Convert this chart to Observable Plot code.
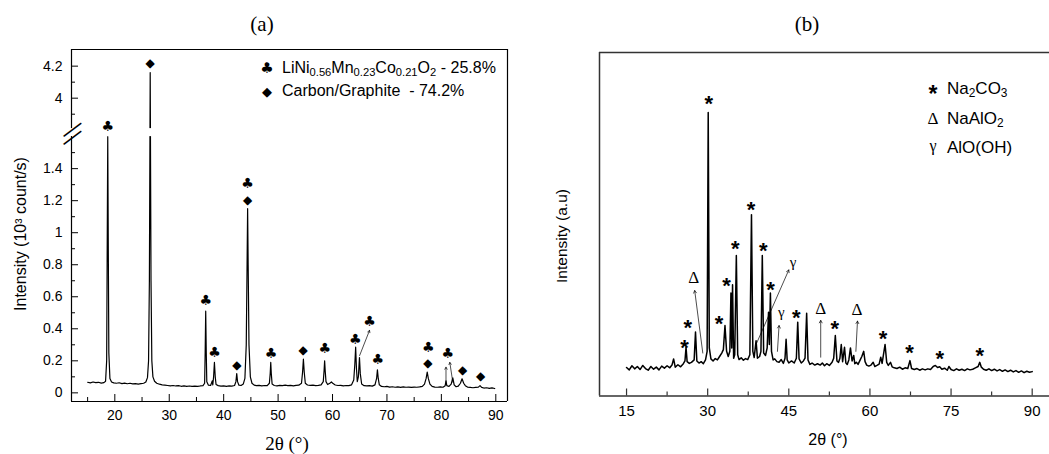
<!DOCTYPE html>
<html><head><meta charset="utf-8">
<script src="https://cdn.jsdelivr.net/npm/d3@7"></script>
<script src="https://cdn.jsdelivr.net/npm/@observablehq/plot@0.6"></script>
<style>
body{margin:0;background:#fff;}
#wrap{position:relative;width:1049px;height:454px;overflow:hidden;font-family:"Liberation Sans",Arial,sans-serif;color:#000;background:#fff}
.abs{position:absolute;white-space:pre;line-height:1}
.c{transform:translate(-50%,-50%)}
.l{transform:translate(0,-50%)}
.r{transform:translate(-50%,-50%) rotate(-90deg)}
sub{font-size:0.7em;vertical-align:-0.3em;line-height:0}
.serif{font-family:"Liberation Serif","Times New Roman",serif}
.sym{font-family:"DejaVu Sans",sans-serif}
</style></head><body>
<div id="wrap">
  <div id="pa" class="abs" style="left:0;top:0"></div>
  <div id="pb" class="abs" style="left:530px;top:0"></div>

  <div class="abs c serif" style="left:262px;top:24px;font-size:21px">(a)</div>
  <div class="abs c serif" style="left:807px;top:24px;font-size:21px">(b)</div>

  <div class="abs c serif" style="left:287px;top:443px;font-size:19px">2θ (°)</div>
  <div class="abs r" style="left:21px;top:234px;font-size:16px">Intensity (10³ count/s)</div>
  <div class="abs c" style="left:828px;top:440px;font-size:16px">2θ (°)</div>
  <div class="abs r" style="left:562px;top:236px;font-size:15.5px">Intensity (a.u)</div>

  <div class="abs c sym" style="left:267px;top:68px;font-size:15px">♣</div>
  <div class="abs l" style="left:282px;top:68px;font-size:16px">LiNi<sub>0.56</sub>Mn<sub>0.23</sub>Co<sub>0.21</sub>O<sub>2</sub> - 25.8%</div>
  <div class="abs c sym" style="left:267px;top:91px;font-size:13px">◆</div>
  <div class="abs l" style="left:282px;top:91px;font-size:16px">Carbon/Graphite  - 74.2%</div>

  <div class="abs c" style="left:933px;top:94px;font-size:23px;font-weight:bold">*</div>
  <div class="abs l" style="left:947px;top:88px;font-size:17px">Na<sub>2</sub>CO<sub>3</sub></div>
  <div class="abs c serif" style="left:933px;top:118px;font-size:17px">Δ</div>
  <div class="abs l" style="left:947px;top:118px;font-size:17px">NaAlO<sub>2</sub></div>
  <div class="abs c serif" style="left:933px;top:146px;font-size:16px">γ</div>
  <div class="abs l" style="left:947px;top:147px;font-size:17px">AlO(OH)</div>
</div>
<script>
// ---------------- Panel (a) data ----------------
const twoThetaA = [15.0,15.5,16.0,16.5,17.0,17.5,18.0,18.3,18.5,18.6,18.7,18.8,18.9,19.1,19.4,19.8,20.3,20.8,21.3,21.8,22.3,22.8,23.3,23.8,24.3,24.8,25.3,25.7,26.0,26.2,26.35,26.5,26.65,26.8,27.0,27.3,27.7,28.2,28.7,29.2,29.7,30.2,30.7,31.2,31.7,32.2,32.7,33.2,33.7,34.2,34.7,35.2,35.7,36.2,36.5,36.6,36.7,36.8,36.9,37.2,37.6,37.9,38.0,38.15,38.3,38.45,38.6,39.0,39.5,40.0,40.5,41.0,41.5,42.0,42.25,42.4,42.55,42.8,43.2,43.6,43.9,44.15,44.3,44.4,44.5,44.65,44.9,45.2,45.6,46.0,46.5,47.0,47.5,48.0,48.4,48.55,48.65,48.75,48.9,49.3,49.8,50.3,50.8,51.3,51.8,52.3,52.8,53.3,53.8,54.3,54.5,54.65,54.8,55.0,55.4,55.9,56.4,56.9,57.4,57.9,58.3,58.45,58.55,58.65,58.8,59.1,59.5,59.8,60.1,60.5,61.0,61.5,62.0,62.5,63.0,63.5,63.9,64.1,64.25,64.4,64.55,64.75,64.95,65.1,65.35,65.8,66.3,66.8,67.3,67.8,68.1,68.25,68.4,68.6,69.0,69.5,70.0,70.5,71.0,71.5,72.0,72.5,73.0,73.5,74.0,74.5,75.0,75.5,76.0,76.5,76.9,77.2,77.4,77.6,77.9,78.3,78.8,79.3,79.8,80.3,80.7,80.85,81.0,81.4,81.8,82.1,82.35,82.7,83.1,83.5,83.8,84.1,84.4,84.8,85.3,85.8,86.3,86.8,87.1,87.4,87.8,88.3,88.8,89.3,89.8];
const intensityA = [0.066,0.062,0.068,0.064,0.066,0.061,0.064,0.072,0.20,0.9,1.6,0.9,0.25,0.09,0.068,0.062,0.060,0.063,0.058,0.061,0.057,0.060,0.056,0.058,0.055,0.058,0.060,0.068,0.095,0.20,0.7,4.16,0.7,0.20,0.10,0.072,0.060,0.054,0.050,0.048,0.046,0.044,0.046,0.043,0.045,0.041,0.044,0.040,0.043,0.040,0.042,0.040,0.043,0.045,0.06,0.25,0.51,0.25,0.07,0.048,0.046,0.075,0.05,0.10,0.19,0.10,0.052,0.045,0.042,0.044,0.041,0.043,0.042,0.046,0.07,0.12,0.07,0.048,0.046,0.055,0.09,0.30,0.80,1.15,0.80,0.30,0.10,0.06,0.048,0.045,0.047,0.044,0.046,0.045,0.06,0.12,0.19,0.12,0.055,0.046,0.044,0.047,0.045,0.048,0.045,0.047,0.044,0.047,0.048,0.06,0.13,0.21,0.13,0.06,0.049,0.047,0.048,0.045,0.047,0.05,0.07,0.14,0.20,0.14,0.07,0.052,0.06,0.068,0.058,0.049,0.046,0.047,0.044,0.046,0.045,0.05,0.08,0.18,0.285,0.15,0.07,0.10,0.22,0.12,0.055,0.045,0.043,0.045,0.042,0.05,0.09,0.144,0.09,0.05,0.040,0.038,0.040,0.036,0.038,0.035,0.037,0.034,0.037,0.035,0.036,0.034,0.036,0.035,0.037,0.040,0.055,0.09,0.13,0.09,0.055,0.040,0.036,0.035,0.037,0.035,0.045,0.075,0.045,0.040,0.055,0.094,0.05,0.038,0.042,0.06,0.088,0.06,0.045,0.036,0.034,0.032,0.034,0.036,0.045,0.034,0.030,0.032,0.028,0.031,0.027];

const xMajorA = [20, 30, 40, 50, 60, 70, 80, 90];
const xMinorA = [15, 25, 35, 45, 55, 65, 75, 85];
const yMajorA = [0, 0.2, 0.4, 0.6, 0.8, 1, 1.2, 1.4, 4, 4.2];
const yMinorA = [0.1, 0.3, 0.5, 0.7, 0.9, 1.1, 1.3, 1.5, 3.9, 4.1];
const yBreakA = [1.6, 3.81];   // axis break: values between are cut out
const xDomainA = [12.04, 92.15];
const yDomainA = [-0.054, 4.304];

const cloverX = [18.7, 36.7, 38.3, 44.4, 48.7, 58.6, 64.2, 66.8, 68.3, 77.6, 81.2];
const cloverY = [3.823, 0.577, 0.25, 1.305, 0.244, 0.275, 0.331, 0.446, 0.206, 0.285, 0.244];
const diamondX = [26.5, 42.4, 44.4, 54.6, 77.5, 83.9, 87.2];
const diamondY = [4.22, 0.175, 1.205, 0.264, 0.185, 0.144, 0.102];
const arrowAx1 = [64.98, 80.85, 82.1];
const arrowAy1 = [0.233, 0.058, 0.066];
const arrowAx2 = [66.8, 80.85, 81.55];
const arrowAy2 = [0.39, 0.16, 0.19];

// ---------------- Panel (b) data ----------------
const twoThetaB = [15.0,15.5,16.0,16.5,17.0,17.5,18.0,18.5,19.0,19.5,20.0,20.5,21.0,21.5,22.0,22.5,23.0,23.4,23.7,24.0,24.5,25.0,25.5,25.8,26.0,26.2,26.6,27.0,27.5,27.75,28.0,28.4,28.8,29.2,29.6,29.9,30.1,30.3,30.6,31.0,31.4,31.8,32.2,32.6,32.9,33.2,33.5,33.8,34.1,34.3,34.45,34.6,34.8,35.0,35.3,35.55,35.8,36.2,36.6,37.0,37.4,37.8,38.1,38.35,38.6,38.95,39.2,39.6,39.85,40.1,40.35,40.7,41.0,41.25,41.4,41.6,41.8,42.1,42.4,42.8,43.2,43.6,44.0,44.3,44.5,44.7,45.0,45.5,46.0,46.4,46.65,46.9,47.3,47.7,48.0,48.3,48.55,48.9,49.3,49.8,50.3,50.8,51.2,51.6,52.0,52.5,53.0,53.3,53.6,53.9,54.2,54.45,54.7,54.95,55.3,55.55,55.8,56.1,56.4,56.7,57.0,57.2,57.5,57.8,58.2,58.5,58.85,59.1,59.4,59.8,60.2,60.6,60.9,61.3,61.7,62.0,62.25,62.8,63.1,63.4,63.8,64.1,64.5,65.0,65.5,66.0,66.5,67.0,67.4,67.7,68.2,68.7,69.2,69.7,70.2,70.7,71.2,71.7,72.1,72.5,72.9,73.3,73.8,74.3,74.6,75.0,75.5,76.0,76.5,77.0,77.5,78.0,78.5,79.0,79.5,80.0,80.3,80.6,81.0,81.5,82.0,82.5,83.0,83.5,84.0,84.5,85.0,85.5,86.0,86.5,87.0,87.5,88.0,88.5,89.0,89.5,90.0];
const intensityB = [8.3,7.6,8.8,7.9,8.6,7.7,8.9,8.0,7.5,8.6,7.8,8.4,7.6,8.7,8.1,8.8,8.2,9.0,10.8,8.4,9.1,8.5,9.4,10.2,14.2,10.0,9.5,9.8,10.5,18.6,10.2,9.6,10.0,9.4,10.5,13,82.5,14,10.8,10.2,10.9,10.5,11.5,12.5,13.5,20.5,13.0,11.5,13.0,30.0,14,32.4,11.0,12.0,40.9,12,10.6,11.1,10.4,10.9,10.6,12.0,52.8,13,11.2,16.1,11.0,11.5,13,40.9,12.5,11.8,14,24.4,15,30,13,10.5,10.8,10.0,9.8,10.6,9.5,11,16.5,10.5,9.6,10.2,9.6,11,21.5,10.8,9.6,10.2,11.0,24.1,10.5,9.2,9.6,9.0,9.4,9.0,9.6,8.8,9.4,8.9,9.8,11,17.6,10.2,9.8,11,15.0,10,14.2,9.6,9.2,10.5,14.0,10.2,11.8,9.4,9.8,9.2,10.5,11.5,13.0,10,9.0,8.7,9.0,9.8,8.6,8.9,9.3,11.3,9.5,15.0,9.8,8.9,9.8,8.5,8.2,8.0,8.4,7.8,8.2,8.0,10.3,8.0,7.7,8.0,7.5,7.9,7.6,7.9,7.7,8.6,8.9,8.3,8.5,7.8,8.1,7.5,8.6,7.7,7.4,7.9,7.5,7.8,7.4,7.9,7.6,7.8,8.2,8.6,9.8,8.4,7.8,7.5,7.9,7.4,7.8,7.3,7.7,7.2,7.6,7.1,7.5,7.0,7.4,6.9,7.3,6.8,7.2,6.9,7.1];

const xMajorB = [15, 30, 45, 60, 75, 90];
const xMinorB = [22.5, 37.5, 52.5, 67.5, 82.5];
const xDomainB = [10.0, 93.2];
const yDomainB = [0, 100];

const starX = [25.7, 26.3, 30.2, 32.1, 33.5, 35.1, 38.0, 40.3, 41.6, 46.4, 53.5, 62.4, 67.3, 72.9, 80.3];
const starY = [15.6, 21.5, 86.6, 22.7, 33.6, 44.4, 55.9, 43.8, 32.4, 24.4, 21.0, 18.1, 14.2, 12.3, 13.2];
const deltaX = [27.4, 50.9, 57.6];
const deltaY = [34.6, 25.4, 25.1];
const gammaX = [45.8, 43.6];
const gammaY = [38.9, 24.4];
const arrowBx1 = [29.1, 39.0, 42.9, 50.9, 57.4];
const arrowBy1 = [12.5, 15.2, 13.0, 11.3, 13.0];
const arrowBx2 = [27.6, 45.0, 43.2, 50.9, 57.7];
const arrowBy2 = [30.7, 36.7, 20.5, 22.0, 21.8];

// ---------------- build ----------------
const gapA = 0.05; // visual gap of the broken axis, in lower-segment units
const brk = v => v <= yBreakA[0] ? v : (v < yBreakA[1] ? yBreakA[0] + gapA * (v - yBreakA[0]) / (yBreakA[1] - yBreakA[0]) : v - yBreakA[1] + yBreakA[0] + gapA);
const unbrk = t => t <= yBreakA[0] ? t : t + yBreakA[1] - yBreakA[0] - gapA;

const pts = (xs, ys, f = v => v) => xs.map((x, i) => ({x, y: f(ys[i])}));
const arrows = (x1, y1, x2, y2, f = v => v) => x1.map((v, i) => ({x1: v, y1: f(y1[i]), x2: x2[i], y2: f(y2[i])}));

const mA = {l: 71, r: 13, t: 49, b: 53};
const WA = 520, HA = 454;
const fwA = WA - mA.l - mA.r, fhA = HA - mA.t - mA.b;
const yTopA = brk(yDomainA[1]);

const plotA = Plot.plot({
  width: WA, height: HA,
  marginLeft: mA.l, marginRight: mA.r, marginTop: mA.t, marginBottom: mA.b,
  style: {fontFamily: "'Liberation Sans', Arial, sans-serif", fontSize: "14px", color: "#000", background: "transparent", overflow: "visible"},
  x: {domain: xDomainA, label: null},
  y: {domain: [yDomainA[0], yTopA], label: null},
  marks: [
    Plot.line(pts(twoThetaA, intensityA, brk), {x: "x", y: "y", stroke: "#000", strokeWidth: 1.2}),
    Plot.rect([0], {y1: () => brk(yBreakA[0]), y2: () => brk(yBreakA[1]), fill: "white"}),
    // frame
    Plot.ruleY([yTopA], {stroke: "#000", strokeWidth: 1.2}),
    Plot.ruleY([yDomainA[0]], {stroke: "#000", strokeWidth: 1.2}),
    Plot.ruleX([xDomainA[1]], {stroke: "#000", strokeWidth: 1.2}),
    Plot.ruleX([xDomainA[0]], {y1: () => yDomainA[0], y2: () => brk(yBreakA[0]), stroke: "#000", strokeWidth: 1.2}),
    Plot.ruleX([xDomainA[0]], {y1: () => brk(yBreakA[1]), y2: () => yTopA, stroke: "#000", strokeWidth: 1.2}),
    // axis break slashes
    Plot.text(yBreakA, {x: () => xDomainA[0], y: d => brk(d), text: () => "—", rotate: -37, fontSize: 22, lineAnchor: "middle", fill: "#000"}),
    // inward ticks
    Plot.ruleX(xMajorA, {insetTop: fhA - 7, stroke: "#000"}),
    Plot.ruleX(xMinorA, {insetTop: fhA - 4, stroke: "#000"}),
    Plot.ruleY(yMajorA.map(brk), {insetRight: fwA - 7, stroke: "#000"}),
    Plot.ruleY(yMinorA.map(brk), {insetRight: fwA - 4, stroke: "#000"}),
    // tick labels
    Plot.axisX({ticks: xMajorA, tickSize: 0, tickPadding: 9, label: null, tickFormat: d => String(d)}),
    Plot.axisY({ticks: yMajorA.map(brk), tickSize: 0, tickPadding: 9, label: null, tickFormat: t => String(+unbrk(t).toFixed(2))}),
    // annotations
    Plot.arrow(arrows(arrowAx1, arrowAy1, arrowAx2, arrowAy2, brk), {x1: "x1", y1: "y1", x2: "x2", y2: "y2", stroke: "#000", strokeWidth: 0.7, headLength: 5}),
    Plot.text(pts(cloverX, cloverY, brk), {x: "x", y: "y", text: () => "♣", fontSize: 14, fontFamily: "DejaVu Sans", lineAnchor: "middle", fill: "#000"}),
    Plot.text(pts(diamondX, diamondY, brk), {x: "x", y: "y", text: () => "◆", fontSize: 12, fontFamily: "DejaVu Sans", lineAnchor: "middle", fill: "#000"})
  ]
});
document.getElementById("pa").appendChild(plotA);

const mB = {l: 69, r: 0, t: 52, b: 58.5};
const WB = 519, HB = 454;
const fwB = WB - mB.l - mB.r, fhB = HB - mB.t - mB.b;

const plotB = Plot.plot({
  width: WB, height: HB,
  marginLeft: mB.l, marginRight: mB.r, marginTop: mB.t, marginBottom: mB.b,
  style: {fontFamily: "'Liberation Sans', Arial, sans-serif", fontSize: "15px", color: "#000", background: "transparent", overflow: "visible"},
  x: {domain: xDomainB, label: null},
  y: {domain: yDomainB, label: null, axis: null},
  marks: [
    Plot.line(pts(twoThetaB, intensityB), {x: "x", y: "y", stroke: "#000", strokeWidth: 1.5}),
    Plot.ruleY([yDomainB[1]], {stroke: "#333", strokeWidth: 1.5}),
    Plot.ruleY([yDomainB[0]], {stroke: "#333", strokeWidth: 1.5}),
    Plot.ruleX([xDomainB[0]], {stroke: "#333", strokeWidth: 1.5}),
    Plot.ruleX(xMajorB, {insetTop: fhB - 7, stroke: "#333", strokeWidth: 1.2}),
    Plot.ruleX(xMinorB, {insetTop: fhB - 4, stroke: "#333", strokeWidth: 1.2}),
    Plot.axisX({ticks: xMajorB, tickSize: 0, tickPadding: 9, label: null, tickFormat: d => String(d)}),
    Plot.arrow(arrows(arrowBx1, arrowBy1, arrowBx2, arrowBy2), {x1: "x1", y1: "y1", x2: "x2", y2: "y2", stroke: "#000", strokeWidth: 0.7, headLength: 6}),
    Plot.text(pts(starX, starY), {x: "x", y: "y", text: () => "*", fontSize: 22, fontWeight: "bold", lineAnchor: "middle", dy: 5.5, fill: "#000"}),
    Plot.text(pts(deltaX, deltaY), {x: "x", y: "y", text: () => "Δ", fontSize: 17, fontFamily: "Liberation Serif", lineAnchor: "middle", fill: "#000"}),
    Plot.text(pts(gammaX, gammaY), {x: "x", y: "y", text: () => "γ", fontSize: 15, fontFamily: "Liberation Serif", lineAnchor: "middle", fill: "#000"})
  ]
});
document.getElementById("pb").appendChild(plotB);
</script>
</body></html>
